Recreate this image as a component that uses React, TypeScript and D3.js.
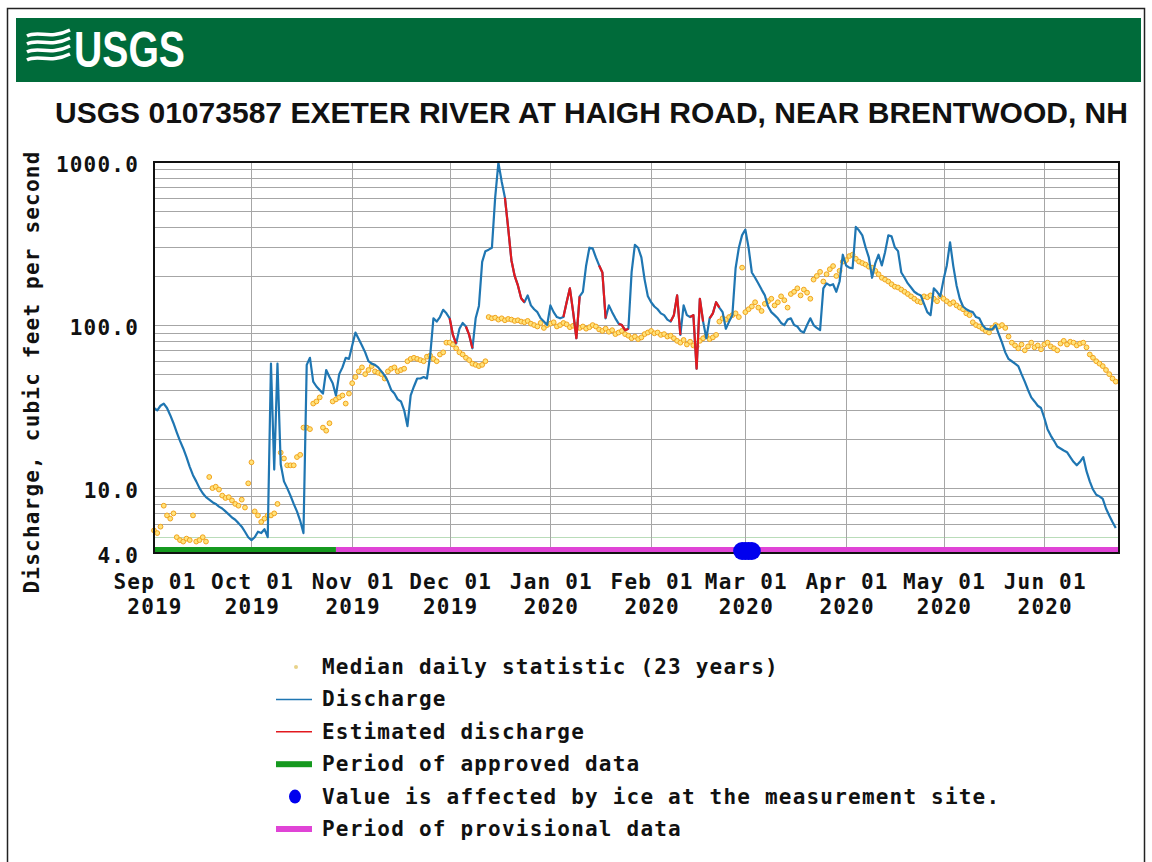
import React, { useRef, useEffect } from 'react';
import * as d3 from 'd3';

// daily values, first day 2019-09-01
const startDay = '2019-09-01';
const endDay = '2020-06-24';

const dischargeSep = [31, 30, 32, 33, 31, 28, 25, 22, 19.5, 17.5, 15.5, 13.5, 12, 11, 10, 9.3, 8.8, 8.5, 8.2, 8, 7.7, 7.5, 7.2, 6.9, 6.6, 6.4, 6.1, 5.8, 5.4, 5.0];
const dischargeOct = [4.8, 5.0, 5.4, 5.3, 5.6, 5.0, 58, 13, 58, 14, 11, 10, 9, 8, 7.2, 6.3, 5.3, 57, 63, 45, 42, 40, 38, 53, 48, 44, 37, 50, 55, 63, 62];
const dischargeNov = [75, 90, 82, 75, 68, 60, 58, 57, 55, 52, 49, 45, 40, 38, 35, 34, 30, 24, 37, 42, 47, 47, 48, 47, 65, 110, 105, 112, 124, 118];
const dischargeDec = [110, 87, 77, 95, 103, 98, 87, 72, 110, 131, 244, 284, 290, 298, 605, 990, 760, 605, 395, 250, 200, 175, 146, 138, 152, 132, 125, 120, 110, 105, 100];
const dischargeJan = [132, 120, 112, 110, 112, 138, 168, 120, 83, 150, 160, 232, 298, 295, 260, 232, 210, 110, 132, 120, 110, 102, 100, 93, 95, 212, 310, 298, 260, 190, 150];
const dischargeFeb = [138, 130, 125, 118, 115, 108, 105, 115, 152, 87, 132, 115, 112, 115, 54, 145, 105, 83, 110, 118, 138, 128, 120, 95, 105, 115, 223, 298, 356];
const dischargeMar = [385, 298, 210, 195, 180, 165, 152, 130, 120, 115, 110, 103, 100, 108, 110, 100, 98, 92, 90, 100, 110, 100, 96, 93, 168, 180, 175, 178, 160, 185, 270];
const dischargeApr = [232, 225, 223, 400, 380, 355, 300, 260, 195, 240, 270, 232, 280, 355, 350, 300, 284, 210, 195, 180, 170, 160, 155, 152, 135, 120, 115, 168, 160, 150];
const dischargeMay = [190, 232, 322, 230, 175, 145, 130, 125, 122, 120, 112, 110, 100, 95, 94, 94, 100, 88, 78, 68, 62, 60, 58, 56, 50, 45, 40, 36, 34, 32, 31];
const dischargeJun = [27, 23, 21, 19.5, 18, 17.5, 17, 16.6, 15.5, 14.5, 13.8, 14.5, 15.5, 12.7, 11, 9.8, 9.1, 8.9, 8.6, 7.5, 6.8, 6.2, 5.7];

const medianSep = [5.5, 5.3, 5.8, 7.8, 6.8, 6.5, 7.0, 5.0, 4.8, 4.7, 4.9, 4.8, 6.8, 4.7, 4.8, 5.0, 4.7, 11.7, 10.0, 10.2, 9.8, 9.0, 8.7, 8.8, 8.4, 8.0, 7.8, 8.5, 7.6, 10.7];
const medianOct = [14.4, 7.2, 6.8, 6.2, 6.5, 6.8, 6.8, 7.0, 8.0, 16.5, 15.2, 13.8, 13.8, 13.8, 15.5, 16.0, 23.5, 23.5, 23.0, 33, 34, 36, 23.5, 22.5, 25, 34, 35, 36, 37, 33, 38];
const medianNov = [44, 48, 52, 55, 50, 53, 56, 52, 51, 50, 47, 52, 54, 55, 52, 53, 54, 60, 62, 63, 62, 61, 60, 64, 65, 62, 60, 66, 68, 78];
const medianDec = [78, 76, 72, 68, 66, 63, 61, 58, 57, 56, 57, 60, 112, 110, 111, 108, 110, 107, 109, 108, 106, 107, 105, 104, 106, 102, 100, 98, 103, 96, 100];
const medianJan = [102, 104, 98, 100, 103, 101, 97, 99, 100, 96, 98, 95, 97, 100, 98, 94, 92, 95, 91, 93, 88, 90, 92, 88, 86, 83, 85, 82, 84, 88, 90];
const medianFeb = [92, 89, 90, 87, 88, 85, 86, 83, 80, 78, 81, 76, 79, 75, 74, 80, 83, 86, 82, 84, 87, 105, 110, 108, 112, 115, 118, 112, 225];
const medianMar = [120, 125, 130, 138, 128, 122, 135, 140, 145, 132, 138, 150, 142, 128, 155, 160, 168, 152, 165, 158, 145, 190, 200, 212, 185, 205, 220, 230, 200, 215, 245];
const medianApr = [250, 265, 270, 255, 245, 240, 235, 228, 225, 215, 205, 195, 190, 185, 178, 172, 170, 165, 160, 155, 150, 145, 140, 138, 150, 148, 152, 145, 140, 150];
const medianMay = [145, 140, 135, 138, 132, 128, 125, 118, 115, 104, 100, 98, 95, 92, 90, 96, 100, 98, 100, 96, 85, 78, 75, 72, 76, 70, 74, 78, 73, 75, 71];
const medianJun = [76, 78, 74, 72, 70, 77, 80, 76, 79, 78, 75, 77, 78, 73, 66, 63, 60, 58, 56, 53, 50, 47, 45];

const estimatedRanges = [
  ['2019-12-02', '2019-12-03'], ['2019-12-07', '2019-12-08'], ['2019-12-19', '2019-12-24'],
  ['2020-01-06', '2020-01-10'], ['2020-01-17', '2020-01-18'], ['2020-01-23', '2020-01-25'],
  ['2020-02-08', '2020-02-10'], ['2020-02-14', '2020-02-17'], ['2020-02-20', '2020-02-22'],
];
const approvedEnd = '2019-10-27';
const iceDays = ['2020-02-29', '2020-03-01', '2020-03-02', '2020-03-03'];
const yLabels = [4, 10, 100, 1000];

const titleText = 'USGS 01073587 EXETER RIVER AT HAIGH ROAD, NEAR BRENTWOOD, NH';
const yTitle = 'Discharge, cubic feet per second';
const legendLabels = [
  'Median daily statistic (23 years)',
  'Discharge',
  'Estimated discharge',
  'Period of approved data',
  'Value is affected by ice at the measurement site.',
  'Period of provisional data',
];

const MONO = "'DejaVu Sans Mono', monospace";

const App = () => {
  const ref = useRef(null);

  useEffect(() => {
    const svg = d3.select(ref.current);
    svg.selectAll('*').remove();

    const parse = d3.timeParse('%Y-%m-%d');
    const t0 = parse(startDay);
    const t1 = parse(endDay);
    const discharge = [...dischargeSep, ...dischargeOct, ...dischargeNov, ...dischargeDec, ...dischargeJan,
      ...dischargeFeb, ...dischargeMar, ...dischargeApr, ...dischargeMay, ...dischargeJun];
    const median = [...medianSep, ...medianOct, ...medianNov, ...medianDec, ...medianJan,
      ...medianFeb, ...medianMar, ...medianApr, ...medianMay, ...medianJun];
    const day = i => d3.timeDay.offset(t0, i);
    const idx = s => d3.timeDay.count(t0, parse(s));

    const left = 154, right = 1119, top = 162, bottom = 553;
    const x = d3.scaleTime().domain([t0, t1]).range([left, right]);
    const y = d3.scaleLog().domain([4, 1000]).range([bottom, top]);

    const mono = sel => sel.attr('font-family', MONO).attr('font-weight', 'bold')
      .attr('font-size', 21).attr('letter-spacing', 1.2).attr('fill', '#111');

    // frame + banner
    svg.append('rect').attr('x', 7.5).attr('y', 8.5).attr('width', 1137).attr('height', 862)
      .attr('fill', 'white').attr('stroke', '#222').attr('stroke-width', 1.5);
    svg.append('rect').attr('x', 16).attr('y', 18).attr('width', 1125).attr('height', 64).attr('fill', '#006b3a');

    const logo = svg.append('g').attr('fill', 'none').attr('stroke', 'white').attr('stroke-width', 3.5);
    [0, 8, 16, 24].forEach(o => {
      logo.append('path').attr('d', `M27,${36 + o} C38,${30 + o} 50,${40 + o} 70,${30 + o}`);
    });
    svg.append('text').attr('x', 74).attr('y', 67).attr('fill', 'white')
      .attr('font-family', "'Liberation Sans Narrow', 'Liberation Sans', sans-serif").attr('font-weight', 'bold')
      .attr('font-size', 50).attr('textLength', 111).attr('lengthAdjust', 'spacingAndGlyphs').text('USGS');

    // title
    svg.append('text').attr('x', 55).attr('y', 123).attr('fill', '#111')
      .attr('font-family', "'Liberation Sans', Arial, sans-serif").attr('font-weight', 'bold')
      .attr('font-size', 30).attr('textLength', 1073).attr('lengthAdjust', 'spacingAndGlyphs').text(titleText);

    // grid
    const grid = svg.append('g');
    y.ticks().filter(v => v > 4 && v < 1000).forEach(v => {
      grid.append('line').attr('x1', left).attr('x2', right).attr('y1', Math.round(y(v)) + 0.5).attr('y2', Math.round(y(v)) + 0.5)
        .attr('stroke', v === 5 ? '#b9dcb9' : '#a6a6a6').attr('stroke-width', 1);
    });
    const months = d3.timeMonth.range(t0, t1);
    months.forEach(m => {
      grid.append('line').attr('x1', Math.round(x(m)) + 0.5).attr('x2', Math.round(x(m)) + 0.5).attr('y1', top).attr('y2', bottom)
        .attr('stroke', '#a6a6a6').attr('stroke-width', 1);
    });

    // data period bars
    const aEnd = parse(approvedEnd);
    svg.append('rect').attr('x', left).attr('y', 547).attr('width', x(aEnd) - left).attr('height', 6).attr('fill', '#15991f');
    svg.append('rect').attr('x', x(aEnd)).attr('y', 547).attr('width', right - x(aEnd)).attr('height', 6).attr('fill', '#e044d6');

    // median dots
    svg.append('g').selectAll('circle').data(median).join('circle')
      .attr('cx', (d, i) => x(day(i))).attr('cy', d => y(d)).attr('r', 2.4)
      .attr('fill', '#ffe27a').attr('stroke', '#f2a31c').attr('stroke-width', 1);

    // discharge
    const line = d3.line().x(d => x(day(d[0]))).y(d => y(d[1]));
    const pts = discharge.map((v, i) => [i, v]);
    svg.append('path').datum(pts).attr('fill', 'none').attr('stroke', '#1f76b2').attr('stroke-width', 2.2)
      .attr('stroke-linejoin', 'round').attr('d', line);
    estimatedRanges.forEach(([a, b]) => {
      svg.append('path').datum(pts.slice(idx(a) - 1, idx(b) + 1)).attr('fill', 'none').attr('stroke', '#e2191e')
        .attr('stroke-width', 2.2).attr('stroke-linejoin', 'round').attr('d', line);
    });

    // plot border
    svg.append('rect').attr('x', left).attr('y', top).attr('width', right - left).attr('height', bottom - top)
      .attr('fill', 'none').attr('stroke', '#111').attr('stroke-width', 2);

    // ice
    svg.append('g').selectAll('circle').data(iceDays).join('circle')
      .attr('cx', d => x(parse(d))).attr('cy', 551).attr('r', 9).attr('fill', '#0000ee');

    // axis labels
    const fmt = d3.format('.1f');
    yLabels.forEach(v => {
      svg.append('text').attr('x', 139).attr('y', y(v) + 10).attr('text-anchor', 'end').call(mono).text(fmt(v));
    });
    months.forEach(m => {
      const g = svg.append('text').attr('text-anchor', 'middle').call(mono);
      g.append('tspan').attr('x', x(m) + 1).attr('y', 589).text(d3.timeFormat('%b %d')(m));
      g.append('tspan').attr('x', x(m) + 1).attr('y', 614).text(d3.timeFormat('%Y')(m));
    });
    svg.append('text').attr('transform', 'rotate(-90)').attr('x', -372).attr('y', 39).attr('text-anchor', 'middle')
      .call(mono).text(yTitle);

    // legend
    const rowY = i => 667 + i * 32.4;
    legendLabels.forEach((lab, i) => {
      svg.append('text').attr('x', 322).attr('y', rowY(i) + 7).call(mono).text(lab);
    });
    svg.append('circle').attr('cx', 296).attr('cy', rowY(0)).attr('r', 2).attr('fill', '#e8d28a');
    svg.append('line').attr('x1', 276).attr('x2', 312).attr('y1', rowY(1)).attr('y2', rowY(1)).attr('stroke', '#1f76b2').attr('stroke-width', 1.5);
    svg.append('line').attr('x1', 276).attr('x2', 312).attr('y1', rowY(2)).attr('y2', rowY(2)).attr('stroke', '#e2191e').attr('stroke-width', 1.5);
    svg.append('rect').attr('x', 276).attr('y', rowY(3) - 3).attr('width', 36).attr('height', 6).attr('fill', '#15991f');
    svg.append('ellipse').attr('cx', 295).attr('cy', rowY(4)).attr('rx', 6).attr('ry', 7).attr('fill', '#0000ee');
    svg.append('rect').attr('x', 276).attr('y', rowY(5) - 3).attr('width', 36).attr('height', 6).attr('fill', '#e044d6');
  }, []);

  return (
    <svg ref={ref} width="1152" height="862" style={{ position: 'absolute', left: 0, top: 0, background: 'white' }}></svg>
  );
};

export default App;
